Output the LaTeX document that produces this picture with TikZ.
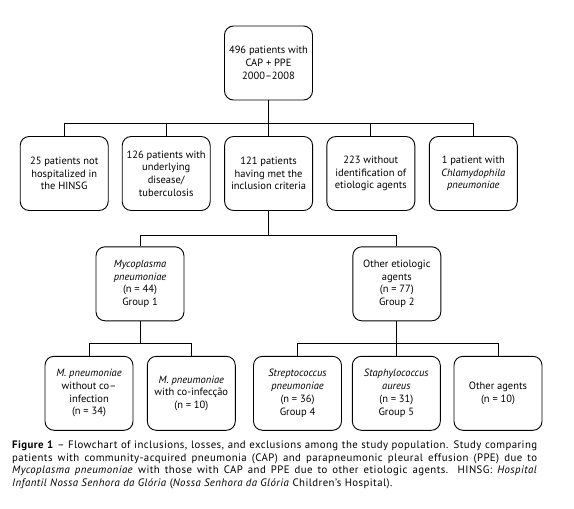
\documentclass[tikz,border=0pt]{standalone}
\usepackage{fontspec}
\setmainfont{PT Sans}
\newfontfamily\capfont[LetterSpace=4]{PT Sans}
\usetikzlibrary{arrows.meta}

\begin{document}
\begin{tikzpicture}[x=1pt,y=-1pt]
        \tikzset{box/.style={draw, line width=0.9pt, rounded corners=9pt, minimum width=88pt,
                minimum height=74pt, inner sep=0.5pt, align=center, font=\fontsize{10.5}{12.7}\selectfont},
                link/.style={line width=0.9pt}}
        \useasboundingbox (0,0) rectangle (574,509);
        % top box
        \node[box] (all) at (268.5,63) {496 patients with\\CAP + PPE\\2000–2008};
        % losses and exclusions
        \node[box] (nohosp) at (64.2,173.5) {25 patients not\\hospitalized in\\the HINSG};
        \node[box] (underl) at (166.2,173.5) {126 patients with\\underlying\\disease/\\tuberculosis};
        \node[box] (incl) at (268.6,173.5) {121 patients\\having met the\\inclusion criteria};
        \node[box] (noid) at (370.8,173.5) {223 without\\identification of\\etiologic agents};
        \node[box] (chlam) at (473.3,173.5) {1 patient with\\\textit{Chlamydophila}\\\textit{pneumoniae}};
        % groups 1 and 2
        \node[box] (myco) at (140,283.8) {\textit{Mycoplasma}\\\textit{pneumoniae}\\(n = 44)\\Group 1};
        \node[box] (other) at (396.8,283.8) {Other etiologic\\agents\\(n = 77)\\Group 2};
        % subgroups
        \node[box] (mnoco) at (89,393.3) {\textit{M. pneumoniae}\\without co–\\infection\\(n = 34)};
        \node[box] (mco) at (191.3,393.3) {\textit{M. pneumoniae}\\with co-infecção\\(n = 10)};
        \node[box] (strep) at (297.5,393.3) {\textit{Streptococcus}\\\textit{pneumoniae}\\(n = 36)\\Group 4};
        \node[box] (staph) at (396.3,393.3) {\textit{Staphylococcus}\\\textit{aureus}\\(n = 31)\\Group 5};
        \node[box] (oth) at (498,393.3) {Other agents\\(n = 10)};

        % junctions
        \coordinate (j0) at (268.5,123);
        \coordinate (j1) at (268.6,235);
        \coordinate (j2) at (140,343.3);
        \coordinate (j3) at (396.8,343.3);
        \draw[link] (all.south) -- (j0);
        \foreach \n in {nohosp,underl,incl,noid,chlam}
            \draw[link] (j0) -| (\n.north);
        \draw[link] (incl.south) -- (j1);
        \foreach \n in {myco,other}
            \draw[link] (j1) -| (\n.north);
        \draw[link] (myco.south) -- (j2);
        \foreach \n in {mnoco,mco}
            \draw[link] (j2) -| (\n.north);
        \draw[link] (other.south) -- (j3);
        \foreach \n in {strep,staph,oth}
            \draw[link] (j3) -| (\n.north);

        % caption
        \node[anchor=north west, inner sep=0pt, text width=525pt, align=justify,
              font=\capfont\fontsize{10.8}{12.7}\selectfont] (cap) at (12,440.5)
            {\textbf{Figure 1} – Flowchart of inclusions, losses, and exclusions among the study population. Study comparing\linebreak
             patients with community-acquired pneumonia (CAP) and parapneumonic pleural effusion (PPE) due to\linebreak
             \textit{Mycoplasma pneumoniae} with those with CAP and PPE due to other etiologic agents. HINSG: \textit{Hospital}\linebreak
             \textit{Infantil Nossa Senhora da Glória} (\textit{Nossa Senhora da Glória} Children’s Hospital).};
\end{tikzpicture}
\end{document}
